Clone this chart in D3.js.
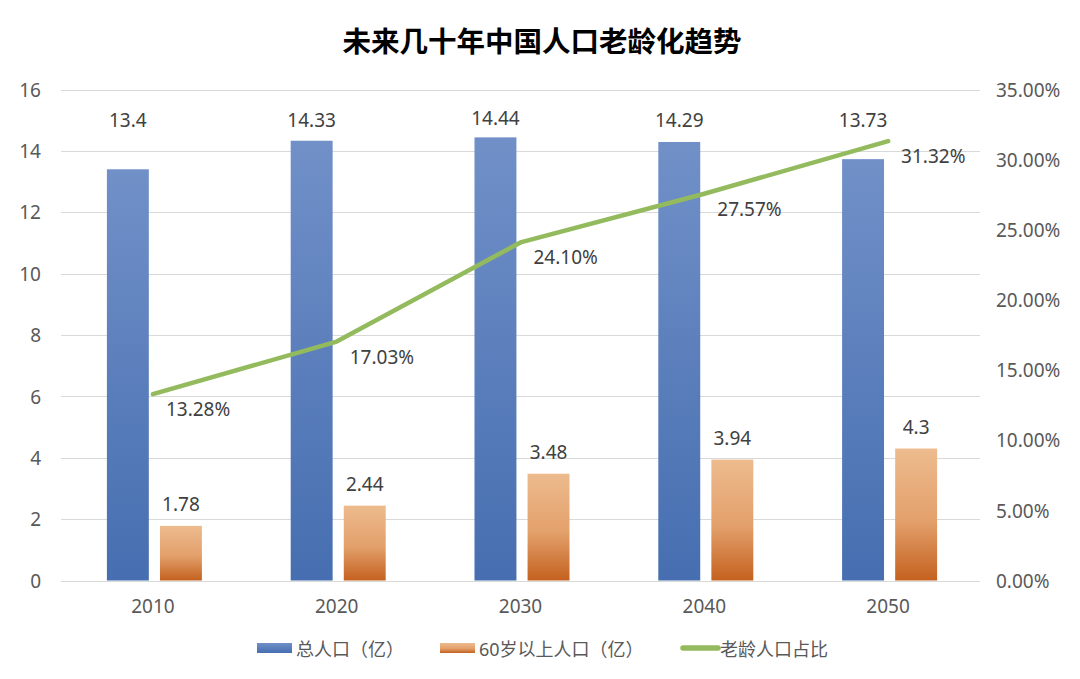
<!DOCTYPE html>
<html><head><meta charset="utf-8">
<script src="https://cdn.jsdelivr.net/npm/d3@7/dist/d3.min.js"></script>
<style>
html,body{margin:0;padding:0;background:#fff;}
svg text{font-family:"Noto Sans","Noto Sans CJK SC",sans-serif;}
</style></head>
<body><svg id="c" width="1080" height="679"></svg>
<script>
const categories = ["2010","2020","2030","2040","2050"];
const totalPop = [13.4, 14.33, 14.44, 14.29, 13.73];
const oldPop = [1.78, 2.44, 3.48, 3.94, 4.3];
const oldRatio = [13.28, 17.03, 24.10, 27.57, 31.32];
const leftTicks = [0,2,4,6,8,10,12,14,16];
const rightTicks = [0,5,10,15,20,25,30,35];
const seriesNames = ["总人口（亿）","60岁以上人口（亿）","老龄人口占比"];
const title = "未来几十年中国人口老龄化趋势";

const svg = d3.select("#c");
const defs = svg.append("defs");
const gb = defs.append("linearGradient").attr("id","gBlue").attr("x1",0).attr("y1",0).attr("x2",0).attr("y2",1);
gb.append("stop").attr("offset","0%").attr("stop-color","#7190c8");
gb.append("stop").attr("offset","100%").attr("stop-color","#466eb0");
const go = defs.append("linearGradient").attr("id","gOrange").attr("x1",0).attr("y1",0).attr("x2",0).attr("y2",1);
go.append("stop").attr("offset","0%").attr("stop-color","#edbb8e");
go.append("stop").attr("offset","55%").attr("stop-color","#e3a06b");
go.append("stop").attr("offset","100%").attr("stop-color","#c4611f");

const pLeft = 61, pRight = 980, pTop = 89.5, pBottom = 580.5;
const x0 = d3.scaleBand().domain(categories).range([pLeft, pRight]).padding(0);
const x1 = d3.scaleBand().domain(["t","o"]).range([-46, 49]).paddingInner(0.21);
const yL = d3.scaleLinear().domain([0,16]).range([pBottom, pTop]);
const yR = d3.scaleLinear().domain([0,35]).range([pBottom, pTop]);

// title
svg.append("text").attr("x",542).attr("y",41).attr("text-anchor","middle").attr("dominant-baseline","central")
  .style("font-size","28.5px").style("font-weight","bold").attr("fill","#000").text(title);

// grid
svg.append("g").selectAll("line").data(leftTicks).join("line")
  .attr("x1",pLeft).attr("x2",pRight).attr("y1",d=>Math.round(yL(d))+0.5).attr("y2",d=>Math.round(yL(d))+0.5)
  .attr("stroke","#d9d9d9").attr("stroke-width",1);

// left axis
const axL = svg.append("g").attr("transform",`translate(${pLeft-20},0)`)
  .call(d3.axisLeft(yL).tickValues(leftTicks).tickSize(0).tickPadding(0));
axL.select(".domain").remove();
axL.selectAll("text").attr("fill","#595959").style("font-size","19px").attr("dy","0.35em");

// right axis
const axR = svg.append("g").attr("transform",`translate(${pRight+16},0)`)
  .call(d3.axisRight(yR).tickValues(rightTicks).tickSize(0).tickPadding(0).tickFormat(d=>d.toFixed(2)+"%"));
axR.select(".domain").remove();
axR.selectAll("text").attr("fill","#595959").style("font-size","19px").attr("dy","0.35em");

// x axis labels
const axX = svg.append("g").attr("transform",`translate(0,${pBottom+26})`)
  .call(d3.axisBottom(x0).tickSize(0).tickPadding(0));
axX.select(".domain").remove();
axX.selectAll("text").attr("fill","#595959").style("font-size","19px").attr("dy","0.35em");

const cx = c => x0(c) + x0.bandwidth()/2;

// bars
const g = svg.append("g");
g.selectAll("rect.t").data(categories).join("rect").attr("class","t")
  .attr("x",(c)=>cx(c)+x1("t")).attr("width",x1.bandwidth())
  .attr("y",(c,i)=>yL(totalPop[i])).attr("height",(c,i)=>yL(0)-yL(totalPop[i]))
  .attr("fill","url(#gBlue)");
g.selectAll("rect.o").data(categories).join("rect").attr("class","o")
  .attr("x",(c)=>cx(c)+x1("o")).attr("width",x1.bandwidth())
  .attr("y",(c,i)=>yL(oldPop[i])).attr("height",(c,i)=>yL(0)-yL(oldPop[i]))
  .attr("fill","url(#gOrange)");

// bar labels
g.selectAll("text.t").data(categories).join("text").attr("class","t")
  .attr("x",c=>cx(c)+x1("t")+x1.bandwidth()/2)
  .attr("y",(c,i)=>Math.min(yL(totalPop[i])-19, yL(15.0)))
  .attr("text-anchor","middle").attr("dominant-baseline","central")
  .attr("fill","#404040").style("font-size","19px").text((c,i)=>totalPop[i]);
g.selectAll("text.o").data(categories).join("text").attr("class","o")
  .attr("x",c=>cx(c)+x1("o")+x1.bandwidth()/2)
  .attr("y",(c,i)=>yL(oldPop[i])-22)
  .attr("text-anchor","middle").attr("dominant-baseline","central")
  .attr("fill","#404040").style("font-size","19px").text((c,i)=>oldPop[i]);

// line
const line = d3.line().x((d,i)=>cx(categories[i])).y(d=>yR(d));
svg.append("path").datum(oldRatio).attr("d",line).attr("fill","none")
  .attr("stroke","#93bb5e").attr("stroke-width",4.5).attr("stroke-linecap","round").attr("stroke-linejoin","round");
svg.append("g").selectAll("text").data(oldRatio).join("text")
  .attr("x",(d,i)=>cx(categories[i])+13).attr("y",d=>yR(d)+15)
  .attr("dominant-baseline","central").attr("fill","#404040").style("font-size","19px")
  .text(d=>d.toFixed(2)+"%");

// legend
const lg = svg.append("g").attr("transform","translate(0,648)");
const items = [
  {x:257, type:"rect", fill:"url(#gBlue)", name:seriesNames[0]},
  {x:440, type:"rect", fill:"url(#gOrange)", name:seriesNames[1]},
  {x:681, type:"line", fill:"#93bb5e", name:seriesNames[2]}
];
items.forEach(it=>{
  if(it.type==="rect"){
    lg.append("rect").attr("x",it.x).attr("y",-5).attr("width",35).attr("height",10).attr("fill",it.fill);
  } else {
    lg.append("line").attr("x1",it.x+2).attr("x2",it.x+37).attr("y1",0).attr("y2",0)
      .attr("stroke",it.fill).attr("stroke-width",5.5).attr("stroke-linecap","round");
  }
  lg.append("text").attr("x",it.x+39).attr("y",1).attr("dominant-baseline","central")
    .attr("fill","#595959").style("font-size","18px").text(it.name);
});
</script></body></html>
